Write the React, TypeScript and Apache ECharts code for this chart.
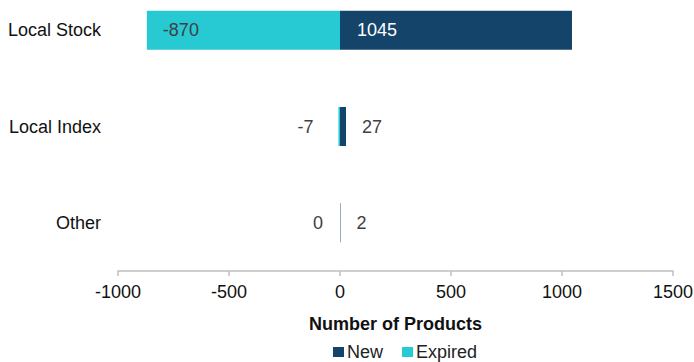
import React, { useEffect, useRef } from "react";
import * as echarts from "echarts";

// Product counts per category
const categories = ["Local Stock", "Local Index", "Other"];
const newProducts = [1045, 27, 2];
const expiredProducts = [-870, -7, 0];
const xTicks = { min: -1000, max: 1500, interval: 500 };

const FONT = 'Arial, "Liberation Sans", sans-serif';
const NAVY = "#15446b";
const CYAN = "#27c9d3";
const LABEL_DARK = "#404040";

export default function App() {
  const ref = useRef<HTMLDivElement>(null);

  useEffect(() => {
    if (!ref.current) return;
    const chart = echarts.init(ref.current, undefined, { renderer: "svg" });

    const newData = newProducts.map((v, i) =>
      i === 0
        ? { value: v, label: { position: "insideLeft", distance: 17, color: "#ffffff" } }
        : { value: v, label: { position: "right", distance: 16, color: LABEL_DARK } }
    );
    const expiredData = expiredProducts.map((v, i) =>
      i === 0
        ? { value: v, label: { position: "insideLeft", distance: 16, color: LABEL_DARK } }
        : { value: v, label: { position: "left", distance: i === 1 ? 25 : 17, color: LABEL_DARK } }
    );

    chart.setOption({
      animation: false,
      textStyle: { fontFamily: FONT },
      grid: {
        left: 118,
        right: 21,
        top: -18,
        bottom: 91,
        containLabel: false,
        outerBoundsMode: "none",
      },
      legend: {
        data: ["New", "Expired"],
        left: 333,
        top: 343,
        padding: 0,
        icon: "rect",
        itemWidth: 11,
        itemHeight: 10,
        itemGap: 19,
        textStyle: { fontFamily: FONT, fontSize: 18, color: "#222222", padding: [0, 0, 0, -2] },
      },
      xAxis: {
        type: "value",
        min: xTicks.min,
        max: xTicks.max,
        interval: xTicks.interval,
        splitLine: { show: false },
        axisLine: { show: true, lineStyle: { color: "#bfbfbf", width: 1.5 } },
        axisTick: { show: true, length: 5, lineStyle: { color: "#bfbfbf", width: 1.5 } },
        axisLabel: {
          fontFamily: FONT,
          fontSize: 18,
          color: "#111111",
          margin: 12,
          formatter: (v: number) => String(v),
        },
        name: "Number of Products",
        nameLocation: "middle",
        nameGap: 44,
        nameTextStyle: { fontFamily: FONT, fontSize: 18, fontWeight: "bold", color: "#111111" },
      },
      yAxis: {
        type: "category",
        data: categories,
        inverse: true,
        axisLine: { show: false },
        axisTick: { show: false },
        axisLabel: { fontFamily: FONT, fontSize: 18, color: "#111111", margin: 17 },
      },
      series: [
        {
          name: "New",
          type: "bar",
          data: newData,
          barWidth: 39,
          barGap: "-100%",
          itemStyle: { color: NAVY },
          label: { show: true, fontFamily: FONT, fontSize: 18 },
        },
        {
          name: "Expired",
          type: "bar",
          data: expiredData,
          barWidth: 39,
          itemStyle: { color: CYAN },
          label: { show: true, fontFamily: FONT, fontSize: 18 },
        },
      ],
    });

    return () => chart.dispose();
  }, []);

  return (
    <div
      ref={ref}
      style={{ position: "fixed", left: 0, top: 0, width: 694, height: 362, background: "#ffffff" }}
    />
  );
}
